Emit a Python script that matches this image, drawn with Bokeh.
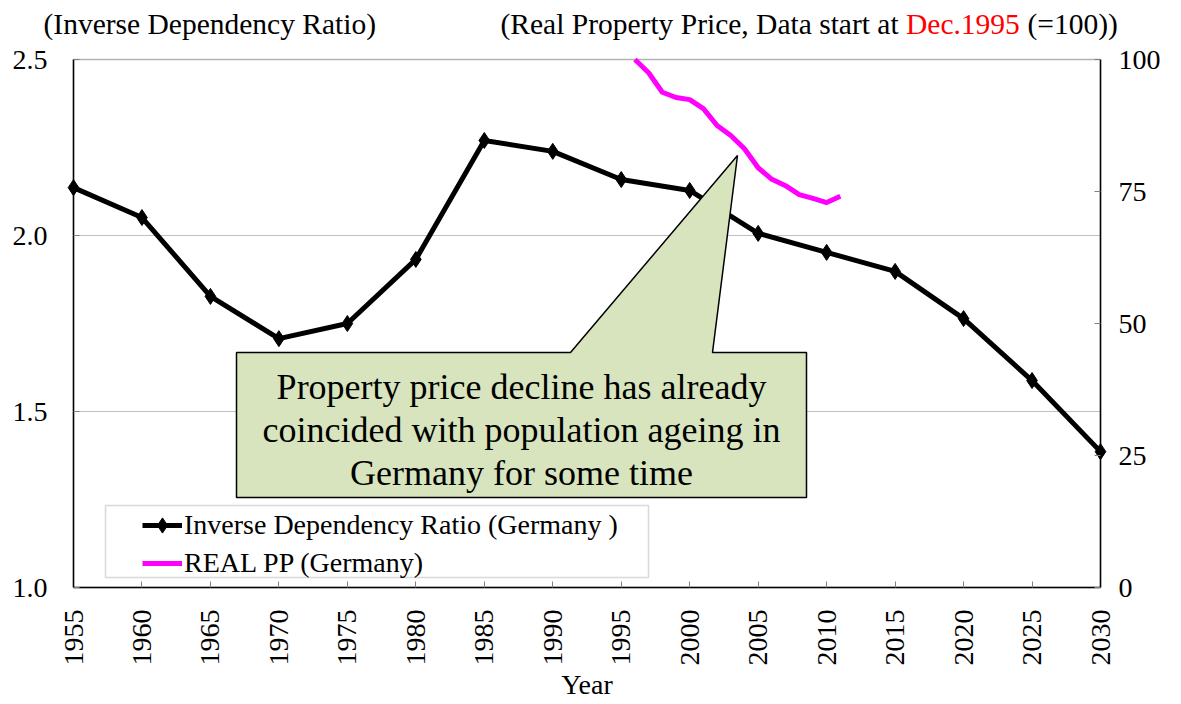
import math
from bokeh.plotting import figure
from bokeh.models import (Range1d, LinearAxis, FixedTicker, Label, Legend, LegendItem, BoxAnnotation)
from bokeh.core.properties import value
from bokeh.embed import file_html
from bokeh.resources import INLINE

FONT = "Liberation Serif"

# ---------------- data ----------------
years = [1955, 1960, 1965, 1970, 1975, 1980, 1985, 1990, 1995, 2000, 2005, 2010, 2015, 2020, 2025, 2030]
inv_dep_ratio = [2.136, 2.051, 1.827, 1.707, 1.750, 1.932, 2.270, 2.239, 2.159, 2.128, 2.006, 1.952, 1.898, 1.764, 1.588, 1.386]

pp_years = [1996, 1997, 1998, 1999, 2000, 2001, 2002, 2003, 2004, 2005, 2006, 2007, 2008, 2009, 2010, 2011]
real_pp = [100.0, 97.5, 93.8, 92.8, 92.4, 90.7, 87.5, 85.6, 83.1, 79.5, 77.3, 76.1, 74.4, 73.7, 72.9, 74.1]

left_ticks = [1.0, 1.5, 2.0, 2.5]
grid_ticks = [1.5, 2.0]
right_ticks = [0, 25, 50, 75, 100]
callout_lines = ["Property price decline has already",
                 "coincided with population ageing in",
                 "Germany for some time"]

# ---------------- geometry of the canvas ----------------
W, H = 1180, 703
X0, X1 = 1955, 2030          # plotted x extent
Y0, Y1 = 1.0, 2.5            # left axis extent
R0, R1 = 0, 100              # right axis extent
FRAME_L, FRAME_R, FRAME_T, FRAME_B = 73, 1100, 59, 587   # plot-area box in page px
xpp = (X1 - X0) / (FRAME_R - FRAME_L)
ypp = (Y1 - Y0) / (FRAME_B - FRAME_T)
rpp = (R1 - R0) / (FRAME_B - FRAME_T)

# the bokeh frame covers the whole canvas; axes are pinned to the plot-area box
x_start = X0 - FRAME_L * xpp
x_end = X1 + (W - FRAME_R) * xpp
y_start = Y0 - (H - FRAME_B) * ypp
y_end = Y1 + FRAME_T * ypp
r_start = R0 - (H - FRAME_B) * rpp
r_end = R1 + FRAME_T * rpp

def px_x(px):
    return X0 + (px - FRAME_L) * xpp

def px_y(py):
    return Y1 - (py - FRAME_T) * ypp

p = figure(width=W, height=H, x_range=Range1d(x_start, x_end), y_range=Range1d(y_start, y_end),
           output_backend="svg", toolbar_location=None,
           min_border_left=0, min_border_right=0, min_border_top=0, min_border_bottom=0,
           background_fill_color="white", border_fill_color="white")
p.outline_line_color = None

# left axis, pinned at x = 1955
ya = p.yaxis[0]
ya.fixed_location = X0
ya.bounds = (Y0, Y1)
ya.ticker = FixedTicker(ticks=left_ticks)
ya.major_label_overrides = {t: f"{t:.1f}" for t in left_ticks}
ya.major_tick_in = 6
ya.major_tick_out = 0
ya.minor_tick_in = 0
ya.minor_tick_out = 0
ya.axis_line_width = 1.5
ya.major_label_text_font = FONT
ya.major_label_text_font_size = "28px"
ya.major_label_text_color = "black"
ya.major_label_standoff = 26
ya.major_tick_line_color = "#808080"

# x axis, pinned at y = 1.0
xa = p.xaxis[0]
xa.fixed_location = Y0
xa.ticker = FixedTicker(ticks=years)
xa.bounds = (X0, X1)
xa.major_label_orientation = math.pi / 2
xa.major_tick_in = 6
xa.major_tick_out = 0
xa.minor_tick_in = 0
xa.minor_tick_out = 0
xa.axis_line_width = 1.5
xa.major_tick_line_color = "#808080"
xa.major_label_text_font = FONT
xa.major_label_text_font_size = "28px"
xa.major_label_text_color = "black"
xa.major_label_standoff = 22
xa.axis_label = "Year"
xa.axis_label_text_font = FONT
xa.axis_label_text_font_style = "normal"
xa.axis_label_text_font_size = "28px"
xa.axis_label_text_color = "black"
xa.axis_label_standoff = 0

# right axis, pinned at x = 2030
p.extra_y_ranges = {"pp": Range1d(r_start, r_end)}
ra = LinearAxis(y_range_name="pp", ticker=FixedTicker(ticks=right_ticks), bounds=(R0, R1),
                fixed_location=X1)
ra.major_tick_in = 6
ra.major_tick_out = 0
ra.minor_tick_in = 0
ra.minor_tick_out = 0
ra.axis_line_width = 1.5
ra.major_tick_line_color = "#808080"
ra.major_label_text_font = FONT
ra.major_label_text_font_size = "28px"
ra.major_label_text_color = "black"
ra.major_label_standoff = 18
p.add_layout(ra, "right")

# plot-area outline and horizontal grid lines limited to the plot area
p.xgrid.visible = False
p.ygrid.visible = False
p.segment(x0=[X0] * len(grid_ticks), x1=[X1] * len(grid_ticks), y0=grid_ticks, y1=grid_ticks,
          line_color="#808080", line_dash="1 1", line_width=1)
p.add_layout(BoxAnnotation(left=X0, right=X1, bottom=Y0, top=Y1, fill_alpha=0,
                           line_color="black", line_width=1.5, level="underlay"))

# series
r_line = p.line(years, inv_dep_ratio, line_color="black", line_width=5, line_join="round")
r_pts = p.scatter(years, inv_dep_ratio, marker="diamond", size=16, fill_color="black", line_color="black")

# callout shape
cx = [px_x(v) for v in (236, 570, 737, 712, 806, 806, 236)]
cy = [px_y(v) for v in (352, 352, 155, 352, 352, 497, 497)]
p.patch(cx, cy, fill_color="#d7e4bd", line_color="black", line_width=1.5)
p.text(x=[px_x(521)] * 3, y=[px_y(v) for v in (386, 429, 472)], text=callout_lines,
       text_align="center", text_baseline="middle",
       text_font=value(FONT), text_font_size="36px", text_color="black")

r_pp = p.line(pp_years, real_pp, y_range_name="pp", line_color="#FF00FF", line_width=5,
              line_join="round")

# legend box + legend
p.add_layout(BoxAnnotation(left=px_x(105), right=px_x(648), bottom=px_y(577), top=px_y(505),
                           fill_color="white", fill_alpha=1.0,
                           line_color="#808080", line_width=1.5))
legend = Legend(items=[LegendItem(label="Inverse Dependency Ratio (Germany )", renderers=[r_line, r_pts]),
                       LegendItem(label="REAL PP (Germany)", renderers=[r_pp])],
                location=(142, H - 582), orientation="vertical",
                border_line_alpha=0, background_fill_alpha=0,
                padding=0, margin=0, spacing=0,
                glyph_width=40, glyph_height=38, label_height=38,
                label_standoff=2,
                label_text_font=FONT, label_text_font_size="28px", label_text_color="black")
p.add_layout(legend)

# axis titles above the plot area
TY = px_y(23)
for tx, txt, col in [(43, "(Inverse Dependency Ratio)", "black"),
                     (500, "(Real Property Price, Data start at ", "black"),
                     (905.5, "Dec.1995", "#FF0000"),
                     (1027, "(=100))", "black")]:
    p.add_layout(Label(x=px_x(tx), y=TY, text=txt, text_font=FONT, text_font_size="29.5px",
                       text_baseline="middle", text_color=col))

open("out.html", "w").write(file_html(p, INLINE))
